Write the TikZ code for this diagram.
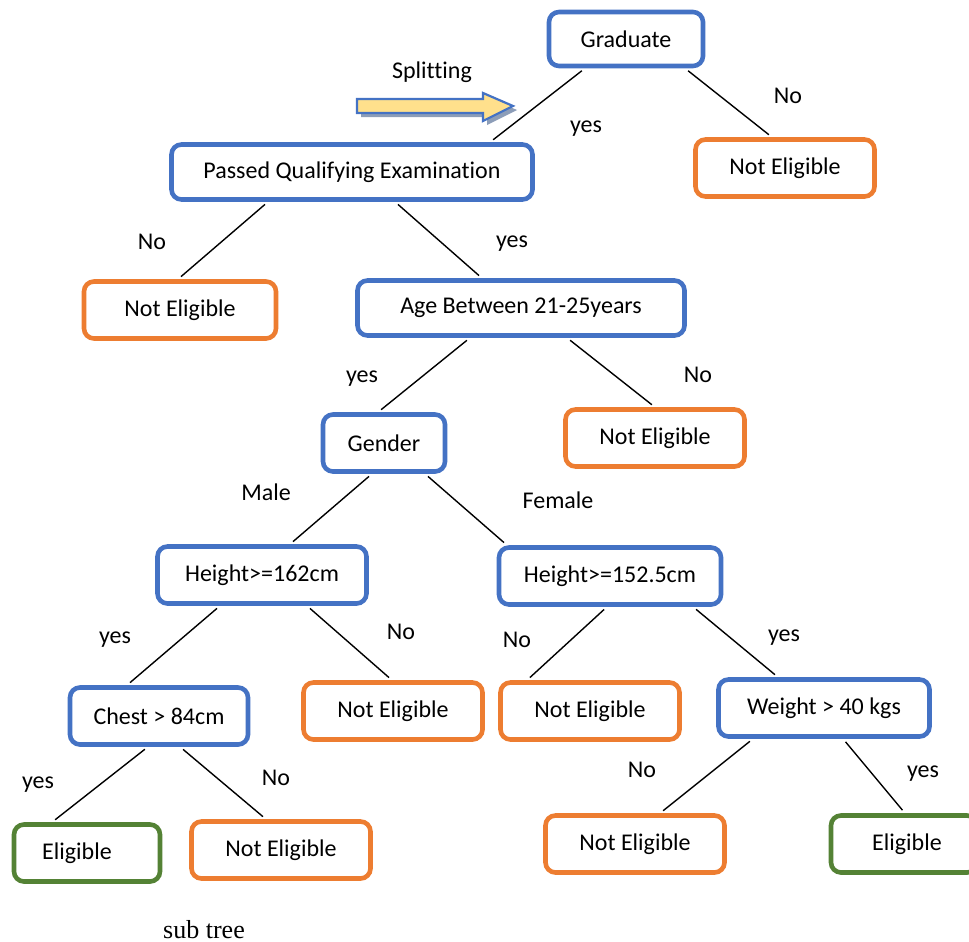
\documentclass[tikz,border=0pt]{standalone}
\usepackage{fontspec}
\setmainfont{Carlito}[Ligatures={NoCommon}]
\newfontfamily\timesfont{Liberation Serif}
\usetikzlibrary{positioning,calc}
\definecolor{boxblue}{HTML}{4472C4}
\definecolor{boxorange}{HTML}{ED7D31}
\definecolor{boxgreen}{HTML}{548235}
\definecolor{arrowfill}{HTML}{FFE08C}
\definecolor{arrowshadow}{HTML}{8C9DB8}

\begin{document}
\begin{tikzpicture}[
    x=0.5pt, y=-0.5pt,
    font=\fontsize{12}{14}\selectfont,
    box/.style={
        draw,
        rounded corners=5pt,
        line width=2.3pt,
        fill=white,
        inner sep=0pt,
        minimum height=28.5pt
    },
    test/.style={box, draw=boxblue},
    noelig/.style={box, draw=boxorange, minimum width=89.5pt},
    elig/.style={box, draw=boxgreen, minimum width=73pt},
    lbl/.style={inner sep=0pt},
    edge/.style={line width=0.7pt, shorten <=2pt, shorten >=2pt}
]
\useasboundingbox (0,0) rectangle (969,942);

\node[test, minimum width=77pt, minimum height=27pt] (grad) at (626,39) {Graduate};

\node[test, minimum width=180.5pt, minimum height=27.5pt] (pqe) at (352,172) {Passed Qualifying Examination};
\node[noelig] (ne1) at (785,168) {Not Eligible};

\node[noelig, minimum width=96pt] (ne2) at (180,310) {Not Eligible};
\node[test, minimum width=163.5pt, minimum height=27.5pt] (age) at (521,308) {Age Between 21-25years};

\node[test, minimum width=61pt] (gender) at (384,443) {Gender};
\node[noelig] (ne3) at (655,438) {Not Eligible};

\node[test, minimum width=104.5pt] (h162) at (262,575) {Height>=162cm};
\node[test, minimum width=111pt] (h152) at (610,576) {Height>=152.5cm};

\node[test, minimum width=89pt] (chest) at (159,716) {Chest > 84cm};
\node[noelig] (ne4) at (393,711) {Not Eligible};
\node[noelig] (ne5) at (590,711) {Not Eligible};
\node[test, minimum width=105.5pt] (weight) at (824,708) {Weight > 40 kgs};

\node[elig] (elig1) at (87,853) {Eligible\rule{10pt}{0pt}};
\node[noelig] (ne6) at (281,850) {Not Eligible};
\node[noelig] (ne7) at (635,844) {Not Eligible};
\node[elig] (elig2) at (904,844) {\hspace{3pt}Eligible};

\draw[edge] ($(grad.south)+(-41,0)$)--($(pqe.north)+(138,0)$);
\draw[edge] ($(grad.south)+(59,0)$)--($(ne1.north)+(-13,0)$);
\draw[edge] ($(pqe.south)+(-84,0)$)--($(ne2.north)+(-2,0)$);
\draw[edge] ($(pqe.south)+(43,0)$)--($(age.north)+(-39,0)$);
\draw[edge] ($(age.south)+(-51,0)$)--($(gender.north)+(-6,0)$);
\draw[edge] ($(age.south)+(46,0)$)--(ne3.north);
\draw[edge] ($(gender.south)+(-12,0)$)--($(h162.north)+(28,0)$);
\draw[edge] ($(gender.south)+(41,0)$)--($(h152.north)+(-103,0)$);
\draw[edge] ($(h162.south)+(-42,0)$)--($(chest.north)+(-32,0)$);
\draw[edge] ($(h162.south)+(45,0)$)--($(ne4.north)+(-1,0)$);
\draw[edge] ($(h152.south)+(-3,0)$)--($(ne5.north)+(-63,0)$);
\draw[edge] ($(h152.south)+(83,0)$)--($(weight.north)+(-46,0)$);
\draw[edge] ($(chest.south)+(-11,0)$)--($(elig1.north)+(-35,0)$);
\draw[edge] ($(chest.south)+(21,0)$)--($(ne6.north)+(-15,0)$);
\draw[edge] ($(weight.south)+(-71,0)$)--($(ne7.north)+(25,0)$);
\draw[edge] ($(weight.south)+(19,0)$)--($(elig2.north)+(1,0)$);

\begin{scope}[shift={(4,4)}]
\fill[arrowshadow] (357,99)--(483,99)--(483,93)--(513,106)--(483,121)--(483,113)--(357,113)--cycle;
\end{scope}
\draw[boxblue, line width=1.1pt, fill=arrowfill] (357,99)--(483,99)--(483,93)--(513,106)--(483,121)--(483,113)--(357,113)--cycle;

\node[lbl] (splitting) at (432,72) {Splitting};
\node[lbl] (gradno) at (788,96) {No};
\node[lbl] (gradyes) at (586,129) {yes};
\node[lbl] (pqeno) at (152,242) {No};
\node[lbl] (pqeyes) at (512,244) {yes};
\node[lbl] (ageyes) at (362,379) {yes};
\node[lbl] (ageno) at (698,375) {No};
\node[lbl] (male) at (266,492) {Male};
\node[lbl] (female) at (558,500) {Female};
\node[lbl] (hmyes) at (115,640) {yes};
\node[lbl] (hmno) at (401,632) {No};
\node[lbl] (hfno) at (517,640) {No};
\node[lbl] (hfyes) at (784,638) {yes};
\node[lbl] (chestyes) at (38,785) {yes};
\node[lbl] (chestno) at (276,778) {No};
\node[lbl] (weightno) at (642,770) {No};
\node[lbl] (weightyes) at (923,774) {yes};

\node[lbl, font=\timesfont\fontsize{13}{15}\selectfont] (subtree) at (204,930) {sub tree};

\end{tikzpicture}
\end{document}
